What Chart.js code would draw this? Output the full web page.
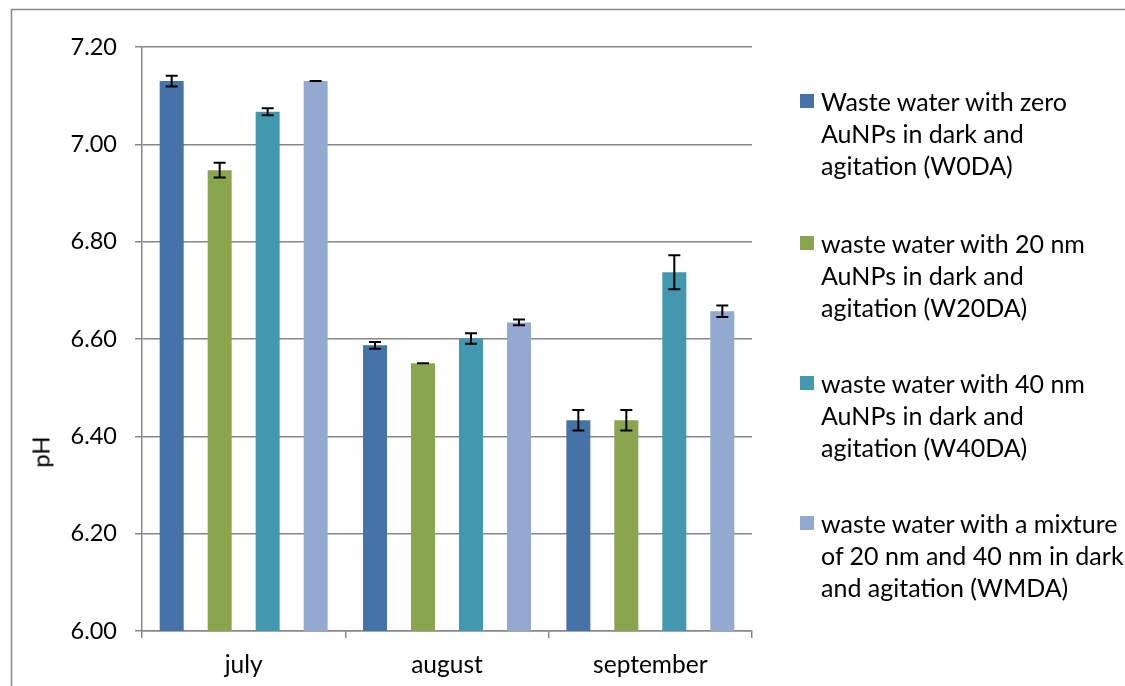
<!DOCTYPE html>
<html>
<head>
<meta charset="utf-8">
<script src="https://cdn.jsdelivr.net/npm/chart.js@4/dist/chart.umd.min.js"></script>
<style>
  html, body { margin: 0; padding: 0; background: #fff; overflow: hidden; }
  #wrap { position: relative; width: 1125px; height: 686px; overflow: hidden; }
  canvas { position: absolute; left: 0; top: 0; }
  #ytitle { position: absolute; left: 40px; top: 452px; transform: translate(-50%, -50%) rotate(-90deg); font-family: Lato, sans-serif; font-size: 24px; color: #000; white-space: nowrap; }
  .lg { position: absolute; left: 800px; font-family: Lato, sans-serif; font-size: 25px; line-height: 32px; color: #000; }
  .lg .box { position: absolute; left: 0; top: 9px; width: 14px; height: 14px; }
  .lg .txt { position: absolute; left: 21px; top: 0; width: 310px; white-space: nowrap; }
</style>
</head>
<body>
<div id="wrap">
  <canvas id="c" width="1125" height="686"></canvas>
  <div id="ytitle">pH</div>
  <div id="legend"></div>
</div>
<script>
const categories = ['july', 'august', 'september'];
const seriesNames = [
  'Waste water with zero AuNPs in dark and agitation (W0DA)',
  'waste water with 20 nm AuNPs in dark and agitation (W20DA)',
  'waste water with 40 nm AuNPs in dark and agitation (W40DA)',
  'waste water with a mixture of 20 nm and 40 nm in dark and agitation (WMDA)'
];
const legendLines = [
  ['Waste water with zero', 'AuNPs in dark and', 'agitation (W0DA)'],
  ['waste water with 20 nm', 'AuNPs in dark and', 'agitation (W20DA)'],
  ['waste water with 40 nm', 'AuNPs in dark and', 'agitation (W40DA)'],
  ['waste water with a mixture', 'of 20 nm and 40 nm in dark', 'and agitation (WMDA)']
];
const W0DA = [7.130, 6.587, 6.433];
const W20DA = [6.947, 6.550, 6.433];
const W40DA = [7.067, 6.601, 6.737];
const WMDA = [7.130, 6.634, 6.657];
const W0DA_err = [0.011, 0.007, 0.021];
const W20DA_err = [0.015, 0.000, 0.021];
const W40DA_err = [0.007, 0.011, 0.035];
const WMDA_err = [0.000, 0.006, 0.012];
const colors = ['#4572A7', '#89A54E', '#4198AF', '#93A9CF'];
const yTicks = [6.00, 6.20, 6.40, 6.60, 6.80, 7.00, 7.20];

const values = [W0DA, W20DA, W40DA, WMDA];
const errors = [W0DA_err, W20DA_err, W40DA_err, WMDA_err];

const framePlugin = {
  id: 'frame',
  beforeDraw(chart) {
    const ctx = chart.ctx;
    ctx.save();
    ctx.strokeStyle = '#8a8a8a';
    ctx.lineWidth = 1.5;
    ctx.beginPath();
    ctx.moveTo(11.5, 700);
    ctx.lineTo(11.5, 9.5);
    ctx.lineTo(1140, 9.5);
    ctx.stroke();
    ctx.restore();
  }
};

const errorBarPlugin = {
  id: 'errorBars',
  afterDatasetsDraw(chart) {
    const ctx = chart.ctx;
    const y = chart.scales.y;
    chart.data.datasets.forEach((ds, di) => {
      const meta = chart.getDatasetMeta(di);
      meta.data.forEach((bar, i) => {
        const v = ds.data[i], e = errors[di][i];
        const top = y.getPixelForValue(v + e), bot = y.getPixelForValue(v - e);
        ctx.save();
        ctx.strokeStyle = '#000';
        ctx.lineWidth = 2;
        ctx.beginPath();
        ctx.moveTo(bar.x, top); ctx.lineTo(bar.x, bot);
        ctx.moveTo(bar.x - 6, top); ctx.lineTo(bar.x + 6, top);
        ctx.moveTo(bar.x - 6, bot); ctx.lineTo(bar.x + 6, bot);
        ctx.stroke();
        ctx.restore();
      });
    });
  }
};

Chart.defaults.font.family = 'Lato, sans-serif';
Chart.defaults.color = '#000';

new Chart(document.getElementById('c'), {
  type: 'bar',
  data: {
    labels: categories,
    datasets: values.map((d, i) => ({
      label: seriesNames[i],
      data: d,
      backgroundColor: colors[i],
      borderWidth: 0,
      categoryPercentage: 0.944,
      barPercentage: 0.5
    }))
  },
  options: {
    responsive: false,
    animation: false,
    devicePixelRatio: 1,
    layout: { padding: { left: 0, top: 47, right: 373, bottom: 0 } },
    plugins: { legend: { display: false }, tooltip: { enabled: false } },
    scales: {
      x: {
        grid: { display: true, drawOnChartArea: false, offset: true, tickLength: 7, color: '#878787', lineWidth: 1.5 },
        border: { color: '#878787', width: 1.5 },
        ticks: { font: { size: 24.5 }, padding: 12, color: '#000' },
        afterFit(scale) { scale.height = 55; }
      },
      y: {
        min: 6.0, max: 7.2,
        afterBuildTicks(scale) { scale.ticks = yTicks.map(v => ({ value: v })); },
        grid: { color: '#878787', lineWidth: 1.5, tickLength: 7 },
        border: { color: '#878787', width: 1.5 },
        ticks: { font: { size: 23.5 }, padding: 18, color: '#000', callback: v => Number(v).toFixed(2) },
        afterFit(scale) { scale.width = 142; }
      }
    }
  },
  plugins: [framePlugin, errorBarPlugin]
});

const legendTops = [85, 227, 367, 507];
const lg = document.getElementById('legend');
legendLines.forEach((lines, i) => {
  const item = document.createElement('div');
  item.className = 'lg';
  item.style.top = legendTops[i] + 'px';
  const box = document.createElement('div');
  box.className = 'box';
  box.style.background = colors[i];
  const txt = document.createElement('div');
  txt.className = 'txt';
  txt.innerHTML = lines.join('<br>');
  item.appendChild(box); item.appendChild(txt);
  lg.appendChild(item);
});
</script>
</body>
</html>
